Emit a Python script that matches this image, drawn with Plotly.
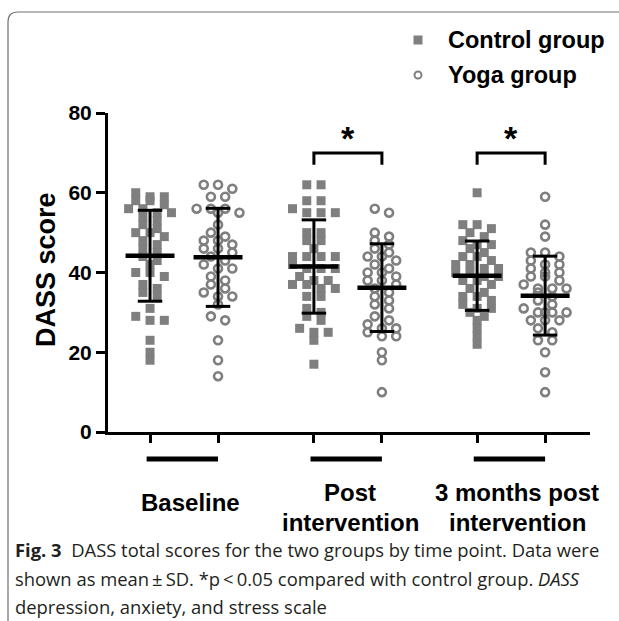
import plotly.graph_objects as go

# ---------------- data ----------------
time_points = ["Baseline", "Post intervention", "3 months post intervention"]
group_names = ["Control group", "Yoga group"]

control_baseline = [60, 59, 59, 58, 58, 57, 56, 56, 55, 55, 54, 53, 52, 51, 50, 50, 49, 48, 47,
                    46, 45, 44, 43, 42, 40, 40, 39, 37, 36, 35, 34, 31, 29, 28, 28, 23, 20, 18]
yoga_baseline = [62, 62, 61, 59, 59, 56, 56, 56, 55, 55, 52, 50, 49, 48, 48, 47, 46, 46, 45,
                 44, 43, 42, 41, 41, 39, 38, 37, 36, 35, 34, 34, 32, 29, 28, 23, 18, 14]
control_post = [62, 62, 58, 58, 56, 55, 55, 55, 50, 50, 48, 48, 46, 44, 44, 44, 44, 42, 41, 41,
                41, 39, 38, 38, 37, 37, 36, 36, 34, 34, 31, 30, 29, 28, 26, 25, 25, 23, 17]
yoga_post = [56, 55, 50, 49, 48, 47, 46, 45, 44, 44, 43, 42, 41, 40, 40, 39, 38, 38, 37, 36,
             35, 34, 33, 32, 31, 29, 28, 27, 26, 26, 25, 24, 24, 20, 18, 10]
control_3m = [60, 52, 52, 51, 50, 49, 48, 47, 47, 46, 45, 44, 44, 43, 42, 42, 41, 41, 40, 40,
              39, 39, 38, 38, 37, 36, 35, 34, 34, 33, 32, 31, 31, 30, 29, 28, 26, 24, 22]
yoga_3m = [59, 52, 49, 45, 45, 44, 43, 42, 42, 41, 40, 40, 39, 39, 38, 37, 36, 36, 36, 35,
           34, 33, 32, 31, 30, 30, 30, 30, 28, 28, 28, 26, 25, 23, 23, 20, 15, 10]

control_mean = [44.2, 41.5, 39.2]
control_sd = [11.4, 11.7, 8.7]
yoga_mean = [43.8, 36.2, 34.2]
yoga_sd = [12.3, 11.0, 9.9]

sig_height = [None, 70, 70]
sig_label = ["", "*", "*"]

y_ticks = [0, 20, 40, 60, 80]

# ---------------- layout helpers ----------------
time_center = [0.0, 2.41, 4.81]
group_offset = [0.0, 1.0]
GRAY = "#7f7f7f"
BOLD = "Liberation Sans, Arial"


def swarm(values, center):
    """Deterministic beeswarm: group close values in rows and spread them."""
    vals = sorted(values, reverse=True)
    xs, ys = [], []
    row = []

    def flush(r):
        n = len(r)
        for i, v in enumerate(r):
            xs.append(center + (i - (n - 1) / 2) * 0.21)
            ys.append(v)

    for v in vals:
        if row and (row[0] - v > 1.6 or len(row) >= 4):
            flush(row)
            row = []
        row.append(v)
    if row:
        flush(row)
    return xs, ys


fig = go.Figure()

control_sets = [control_baseline, control_post, control_3m]
yoga_sets = [yoga_baseline, yoga_post, yoga_3m]

cx, cy, yx, yy = [], [], [], []
for t in range(3):
    a, b = swarm(control_sets[t], time_center[t] + group_offset[0])
    cx += a
    cy += b
    a, b = swarm(yoga_sets[t], time_center[t] + group_offset[1])
    yx += a
    yy += b

fig.add_trace(go.Scatter(
    x=cx, y=cy, mode="markers", name=group_names[0], showlegend=False,
    marker=dict(symbol="square", size=9, color=GRAY, line=dict(width=0)),
))
fig.add_trace(go.Scatter(
    x=yx, y=yy, mode="markers", name=group_names[1], showlegend=False,
    marker=dict(symbol="circle-open", size=8, color=GRAY, line=dict(width=2.6, color=GRAY)),
))

# mean and SD lines
mx, my, ex, ey = [], [], [], []
for t in range(3):
    for g, (means, sds) in enumerate([(control_mean, control_sd), (yoga_mean, yoga_sd)]):
        xc = time_center[t] + group_offset[g]
        m, s = means[t], sds[t]
        mx += [xc - 0.36, xc + 0.36, None]
        my += [m, m, None]
        ex += [xc, xc, None, xc - 0.18, xc + 0.18, None, xc - 0.18, xc + 0.18, None]
        ey += [m - s, m + s, None, m + s, m + s, None, m - s, m - s, None]

fig.add_trace(go.Scatter(x=mx, y=my, mode="lines", line=dict(color="black", width=4.5),
                         showlegend=False, hoverinfo="skip"))
fig.add_trace(go.Scatter(x=ex, y=ey, mode="lines", line=dict(color="black", width=3),
                         showlegend=False, hoverinfo="skip"))

# significance brackets
bx, by = [], []
for t in range(3):
    if sig_height[t] is None:
        continue
    x0 = time_center[t] + group_offset[0]
    x1 = time_center[t] + group_offset[1]
    h = sig_height[t]
    bx += [x0, x0, x1, x1, None]
    by += [h - 3, h, h, h - 3, None]
    fig.add_annotation(x=(x0 + x1) / 2, y=h - 1.6, xref="x", yref="y", text=sig_label[t],
                       showarrow=False, yanchor="bottom",
                       font=dict(family=BOLD, size=34, color="black", weight=700))
fig.add_trace(go.Scatter(x=bx, y=by, mode="lines", line=dict(color="black", width=3),
                         showlegend=False, hoverinfo="skip"))

# group bars under the axis
for t in range(3):
    fig.add_shape(type="line", xref="x", yref="paper",
                  x0=time_center[t] + group_offset[0] - 0.05, x1=time_center[t] + group_offset[1],
                  y0=-0.085, y1=-0.085, line=dict(color="black", width=5))

# pixel helpers (plot area)
W, H = 482, 319
L, T = 108, 113


def px_x(p):
    return (p - L) / W


def px_y(p):
    return (432 - p) / H


# legend (drawn manually to match spacing)
fig.add_shape(type="rect", xref="paper", yref="paper",
              x0=px_x(413.5), x1=px_x(422.5), y0=px_y(44.5), y1=px_y(35.5),
              fillcolor=GRAY, line=dict(width=0))
fig.add_shape(type="circle", xref="paper", yref="paper",
              x0=px_x(414.5), x1=px_x(421.5), y0=px_y(78.5), y1=px_y(71.5),
              fillcolor="white", line=dict(color=GRAY, width=2))
for name, yp in zip(group_names, [40, 75]):
    fig.add_annotation(x=px_x(446), y=px_y(yp), xref="paper", yref="paper", text=name,
                       showarrow=False, xanchor="left", yanchor="middle",
                       font=dict(family=BOLD, size=23.5, color="black", weight=700))

# category labels
label_font = dict(family=BOLD, size=24, color="black", weight=700)
label_pos = [(190, [502]), (350, [492, 522]), (517, [492, 522])]
label_lines = [["Baseline"], ["Post", "intervention"], ["3 months post", "intervention"]]
for (xc, ys), lines in zip(label_pos, label_lines):
    for yp, txt in zip(ys, lines):
        fig.add_annotation(x=px_x(xc), y=px_y(yp), xref="paper", yref="paper", text=txt,
                           showarrow=False, xanchor="center", yanchor="middle", font=label_font)

# y-axis title
fig.add_annotation(x=px_x(46), y=px_y(270), xref="paper", yref="paper", text="DASS score",
                   textangle=-90, showarrow=False, xanchor="center", yanchor="middle",
                   font=dict(family=BOLD, size=27, color="black", weight=700))

# caption
cap_font = dict(family="Open Sans", size=18.4, color="#231f20")
caption = [
    "<b>Fig. 3</b>  DASS total scores for the two groups by time point. Data were",
    "shown as mean\u2009\u00b1\u2009SD. *p\u2009<\u20090.05 compared with control group. <i>DASS</i>",
    "depression, anxiety, and stress scale",
]
for txt, yp in zip(caption, [549, 578, 606]):
    fig.add_annotation(x=px_x(13), y=px_y(yp), xref="paper", yref="paper", text=txt,
                       showarrow=False, xanchor="left", yanchor="middle", align="left",
                       font=cap_font)

# frame border (rounded top-left)
x0p, y0p = px_x(8), px_y(12)
x1p, yb = px_x(640), px_y(650)
rx, ry = 10 / W, 10 / H
fig.add_shape(type="path", xref="paper", yref="paper",
              path=f"M {x0p},{yb} L {x0p},{y0p - ry} Q {x0p},{y0p} {x0p + rx},{y0p} L {x1p},{y0p}",
              line=dict(color="#6d6e71", width=1.2))

fig.update_layout(
    width=619, height=621,
    margin=dict(l=L, r=619 - 590, t=T, b=621 - 432),
    paper_bgcolor="white", plot_bgcolor="white",
    showlegend=False,
    xaxis=dict(range=[-0.618, 6.47], showgrid=False, zeroline=False, showline=True,
               linecolor="black", linewidth=3,
               tickmode="array",
               tickvals=[time_center[t] + group_offset[g] for t in range(3) for g in range(2)],
               ticktext=["" for _ in range(6)], ticks="outside", ticklen=8, tickwidth=3,
               tickcolor="black"),
    yaxis=dict(range=[0, 80], showgrid=False, zeroline=False, showline=True,
               linecolor="black", linewidth=3, tickvals=y_ticks, ticks="outside",
               ticklen=9, tickwidth=3, tickcolor="black",
               tickfont=dict(family=BOLD, size=21, color="black", weight=700)),
)

fig.write_html(
    "out.html",
    config={"displayModeBar": False},
    post_script="document.body.style.margin='0px';document.body.style.overflow='hidden';",
)
